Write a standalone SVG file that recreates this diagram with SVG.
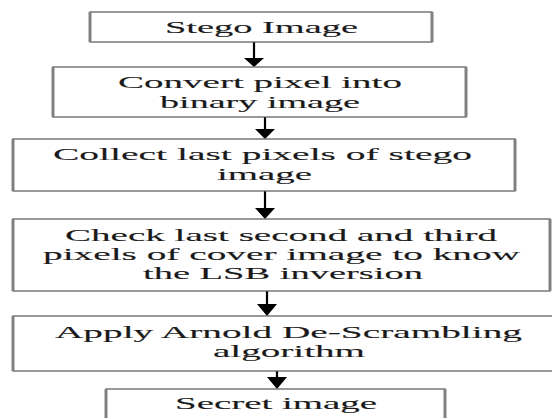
<svg xmlns="http://www.w3.org/2000/svg" width="552" height="418" viewBox="0 0 552 418">
<style>
.box{fill:#fff;stroke:#555;stroke-width:1.2}
.side{stroke:#808080;stroke-width:3}
.t{font-family:"Liberation Serif","Times New Roman",serif;font-size:17.5px;fill:#1a1a1a;stroke:#1a1a1a;stroke-width:0.12;text-anchor:middle}
.sh{stroke:#000;stroke-width:2.2}
.hd{fill:#000}
</style>
<rect width="552" height="418" fill="#fff"/>
<g id="connectors">
<line class="sh" x1="254" y1="42" x2="254" y2="59"/><polygon class="hd" points="244,58 264,58 254,67"/>
<line class="sh" x1="265" y1="117" x2="265" y2="131"/><polygon class="hd" points="255,129 275,129 265,139"/>
<line class="sh" x1="265" y1="191" x2="265" y2="209"/><polygon class="hd" points="255,208 275,208 265,219"/>
<line class="sh" x1="267" y1="291" x2="267" y2="306"/><polygon class="hd" points="257,304 277,304 267,316"/>
<line class="sh" x1="277" y1="371" x2="277" y2="380"/><polygon class="hd" points="267,377 287,377 277,389"/>
</g>
<g id="n1">
<rect class="box" x="90" y="12" width="342" height="30"/>
<line class="side" x1="90" y1="12" x2="90" y2="42"/><line class="side" x1="432" y1="12" x2="432" y2="42"/>
<text class="t" x="261.5" y="33" textLength="193" lengthAdjust="spacingAndGlyphs">Stego Image</text>
</g>
<g id="n2">
<rect class="box" x="53" y="67" width="413" height="50"/>
<line class="side" x1="53" y1="67" x2="53" y2="117"/><line class="side" x1="466" y1="67" x2="466" y2="117"/>
<text class="t" x="260" y="88" textLength="284" lengthAdjust="spacingAndGlyphs">Convert pixel into</text>
<text class="t" x="260" y="108" textLength="200" lengthAdjust="spacingAndGlyphs">binary image</text>
</g>
<g id="n3">
<rect class="box" x="13" y="139" width="502" height="52"/>
<line class="side" x1="13" y1="139" x2="13" y2="191"/><line class="side" x1="515" y1="139" x2="515" y2="191"/>
<text class="t" x="262.5" y="160" textLength="419" lengthAdjust="spacingAndGlyphs">Collect last pixels of stego</text>
<text class="t" x="264.5" y="180" textLength="95" lengthAdjust="spacingAndGlyphs">image</text>
</g>
<g id="n4">
<rect class="box" x="13" y="219" width="537" height="72"/>
<line class="side" x1="13" y1="219" x2="13" y2="291"/><line class="side" x1="550" y1="219" x2="550" y2="291"/>
<text class="t" x="281" y="241" textLength="432" lengthAdjust="spacingAndGlyphs">Check last second and third</text>
<text class="t" x="281.5" y="260" textLength="477" lengthAdjust="spacingAndGlyphs">pixels of cover image to know</text>
<text class="t" x="283" y="279" textLength="280" lengthAdjust="spacingAndGlyphs">the LSB inversion</text>
</g>
<g id="n5">
<rect class="box" x="13" y="316" width="560" height="55"/>
<line class="side" x1="13" y1="316" x2="13" y2="371"/>
<text class="t" x="288.5" y="338" textLength="467" lengthAdjust="spacingAndGlyphs">Apply Arnold De-Scrambling</text>
<text class="t" x="289" y="357" textLength="152" lengthAdjust="spacingAndGlyphs">algorithm</text>
</g>
<g id="n6">
<rect class="box" x="106" y="389" width="339" height="40"/>
<line class="side" x1="106" y1="389" x2="106" y2="420"/><line class="side" x1="445" y1="389" x2="445" y2="420"/>
<text class="t" x="276" y="409" textLength="202" lengthAdjust="spacingAndGlyphs">Secret image</text>
</g>
</svg>
